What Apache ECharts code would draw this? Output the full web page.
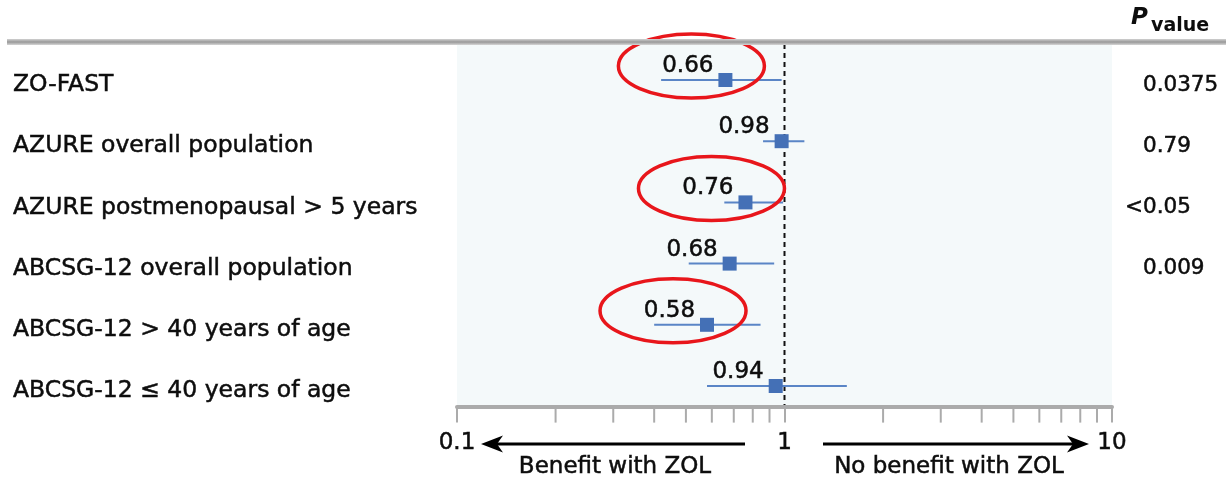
<!DOCTYPE html>
<html>
<head>
<meta charset="utf-8">
<script src="https://cdn.jsdelivr.net/npm/echarts@6/dist/echarts.min.js"></script>
<style>html,body{margin:0;padding:0;background:#fff}#c{width:1226px;height:479px}</style>
</head>
<body>
<div id="c"></div>
<script>
const categories = [
  'ZO-FAST',
  'AZURE overall population',
  'AZURE postmenopausal > 5 years',
  'ABCSG-12 overall population',
  'ABCSG-12 > 40 years of age',
  'ABCSG-12 \u2264 40 years of age'
];
const hazardRatio = [0.66, 0.98, 0.76, 0.68, 0.58, 0.94];
const ciLower = [0.42, 0.86, 0.655, 0.51, 0.40, 0.58];
const ciUpper = [0.98, 1.15, 0.99, 0.93, 0.845, 1.55];
const pValues = ['0.0375', '0.79', '<0.05', '0.009', '', ''];
const circledRows = [0, 2, 4];
const minorTickValues = [0.2, 0.3, 0.4, 0.5, 0.6, 0.7, 0.8, 0.9, 2, 3, 4, 5, 6, 7, 8, 9];
const axisRange = [0.1, 10];
const directionLabels = ['Benefit with ZOL', 'No benefit with ZOL'];

const FONT = 'DejaVu Sans';
const INK = '#0d0d0d';
const BOLDEN = {textBorderColor: INK, textBorderWidth: 0.5};
const BOLD_Z = {stroke: INK, lineWidth: 0.5};
const AXIS_OFFSET = -10;
const TICK_LEN = 16;
const chart = echarts.init(document.getElementById('c'), null, {renderer: 'canvas'});

const forestData = categories.map((c, i) => [ciLower[i], ciUpper[i], hazardRatio[i], i]);
const pData = pValues.map((p, i) => [1, i]);

const option = {
  animation: false,
  grid: [
    {left: 457, width: 655, top: 49.4, height: 367.2},
    {left: 457, width: 655, top: 44, height: 362, show: true, backgroundColor: '#f4f9fa', borderWidth: 0}
  ],
  xAxis: [
    {
      type: 'log', logBase: 10, min: axisRange[0], max: axisRange[1], gridIndex: 0,
      offset: AXIS_OFFSET, z: 8,
      axisLine: {show: true, lineStyle: {color: '#ababab', width: 4}},
      axisTick: {show: true, length: TICK_LEN, lineStyle: {color: '#ababab', width: 2}},
      axisLabel: Object.assign({fontFamily: FONT, fontSize: 23, color: INK, margin: 25,
        formatter: v => String(+(+v).toPrecision(3))}, BOLDEN),
      splitLine: {show: false}
    },
    {type: 'log', logBase: 10, min: axisRange[0], max: axisRange[1], gridIndex: 1, show: false}
  ],
  yAxis: [
    {
      type: 'category', data: categories, inverse: true, gridIndex: 0,
      axisLine: {show: false}, axisTick: {show: false}, splitLine: {show: false},
      axisLabel: Object.assign({align: 'left', verticalAlign: 'top', margin: 444, fontFamily: FONT, fontSize: 23.5, color: INK,
        padding: [-7, 0, 0, 0]}, BOLDEN)
    },
    {type: 'value', gridIndex: 1, min: 0, max: 1, show: false}
  ],
  series: [
    {
      type: 'custom', xAxisIndex: 1, yAxisIndex: 1, z: 1,
      data: [[1]],
      encode: {x: 0},
      renderItem: (params, api) => {
        const top = api.coord([api.value(0), 1]);
        const bot = api.coord([api.value(0), 0]);
        return {type: 'line', shape: {x1: top[0], y1: top[1], x2: bot[0], y2: bot[1] + 2},
          style: {stroke: '#111', lineWidth: 2, lineDash: [5, 4]}};
      }
    },
    {
      type: 'custom', xAxisIndex: 0, yAxisIndex: 0, z: 8,
      data: minorTickValues.map(v => [v, 0]),
      encode: {x: 0, y: 1},
      renderItem: (params, api) => {
        const p = api.coord([api.value(0), 0]);
        const cs = params.coordSys;
        const y0 = cs.y + cs.height + AXIS_OFFSET;
        return {type: 'line', shape: {x1: p[0], y1: y0, x2: p[0], y2: y0 + TICK_LEN},
          style: {stroke: '#ababab', lineWidth: 2}};
      }
    },
    {
      type: 'custom', xAxisIndex: 0, yAxisIndex: 0, z: 5,
      data: forestData,
      encode: {x: [0, 1, 2], y: 3},
      renderItem: (params, api) => {
        const i = api.value(3);
        const lo = api.coord([api.value(0), i]);
        const hi = api.coord([api.value(1), i]);
        const c = api.coord([api.value(2), i]);
        const children = [
          {type: 'line', shape: {x1: lo[0], y1: lo[1], x2: hi[0], y2: hi[1]},
            style: {stroke: '#5a85c6', lineWidth: 2}},
          {type: 'rect', shape: {x: c[0] - 7, y: c[1] - 7, width: 14, height: 14},
            style: {fill: '#4470b6'}},
          {type: 'text', style: Object.assign({text: hazardRatio[params.dataIndex].toFixed(2), x: c[0] - 12, y: c[1] - 14,
            align: 'right', verticalAlign: 'middle', fontFamily: FONT, fontSize: 23, fill: INK}, BOLD_Z)}
        ];
        if (circledRows.includes(i)) {
          children.push({type: 'ellipse', shape: {cx: c[0] - 34, cy: c[1] - 14, rx: 73, ry: 32},
            style: {fill: 'none', stroke: '#e8161b', lineWidth: 3.5}});
        }
        return {type: 'group', children};
      }
    },
    {
      type: 'custom', xAxisIndex: 0, yAxisIndex: 0, z: 5,
      data: pData,
      encode: {x: 0, y: 1},
      renderItem: (params, api) => {
        const i = api.value(1);
        const y = api.coord([1, i])[1] + 5;
        const x = params.coordSys.x + params.coordSys.width + 31;
        const p = pValues[params.dataIndex];
        const st = Object.assign({fontFamily: FONT, fontSize: 21.5, fill: INK, verticalAlign: 'middle'}, BOLD_Z);
        if (p.startsWith('<')) {
          return {type: 'group', children: [
            {type: 'text', style: Object.assign({text: '<', x: x, y: y, align: 'right'}, st)},
            {type: 'text', style: Object.assign({text: p.slice(1), x: x, y: y, align: 'left'}, st)}
          ]};
        }
        return {type: 'text', style: Object.assign({text: p, x: x, y: y, align: 'left'}, st)};
      }
    }
  ],
  graphic: [
    {type: 'rect', left: 7, top: 39, shape: {width: 1219, height: 6}, z: 10,
      style: {fill: new echarts.graphic.LinearGradient(0, 0, 0, 1, [
        {offset: 0, color: '#d2d2d2'}, {offset: 0.5, color: '#989898'}, {offset: 1, color: '#d6d6d6'}])}},
    {type: 'text', x: 1131, y: 18, z: 10, style: {text: 'P', fontFamily: FONT, fontSize: 23, fontWeight: 'bold', fontStyle: 'italic', fill: INK, verticalAlign: 'middle'}},
    {type: 'text', x: 1151, y: 26, z: 10, style: {text: 'value', fontFamily: FONT, fontSize: 19, fontWeight: 'bold', fill: INK, verticalAlign: 'middle'}},
    {type: 'line', z: 10, shape: {x1: 745, y1: 444, x2: 490, y2: 444}, style: {stroke: '#000', lineWidth: 3}},
    {type: 'polygon', z: 10, shape: {points: [[481, 444], [503, 435.5], [497, 444], [503, 452.5]]}, style: {fill: '#000'}},
    {type: 'line', z: 10, shape: {x1: 823, y1: 444, x2: 1080, y2: 444}, style: {stroke: '#000', lineWidth: 3}},
    {type: 'polygon', z: 10, shape: {points: [[1089, 444], [1067, 435.5], [1073, 444], [1067, 452.5]]}, style: {fill: '#000'}},
    {type: 'text', x: 615, y: 467, z: 10, style: Object.assign({text: directionLabels[0], fontFamily: FONT, fontSize: 23, fill: INK, align: 'center', verticalAlign: 'middle'}, BOLD_Z)},
    {type: 'text', x: 949, y: 467, z: 10, style: Object.assign({text: directionLabels[1], fontFamily: FONT, fontSize: 23, fill: INK, align: 'center', verticalAlign: 'middle'}, BOLD_Z)}
  ]
};
chart.setOption(option);
</script>
</body>
</html>
